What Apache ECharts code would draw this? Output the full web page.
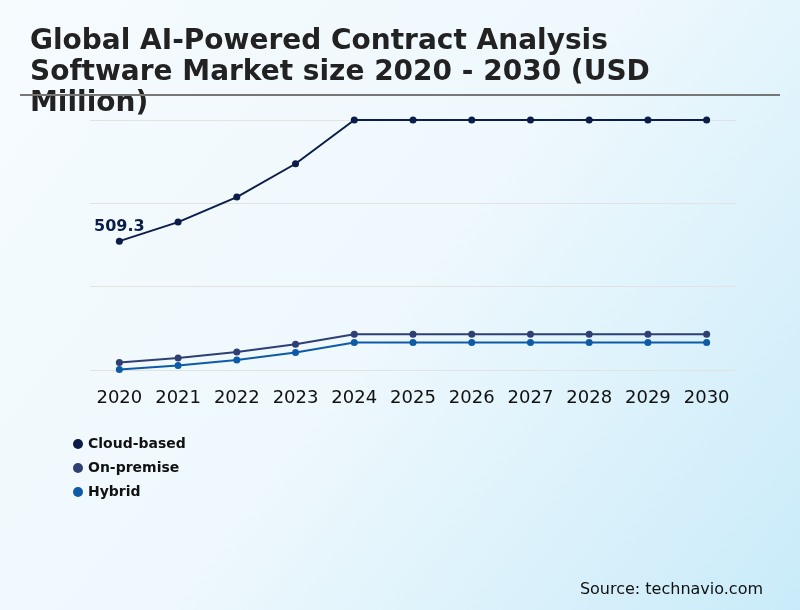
<!DOCTYPE html>
<html>
<head>
<meta charset="utf-8">
<script src="https://cdn.jsdelivr.net/npm/echarts@6/dist/echarts.min.js"></script>
<style>
  html, body { margin: 0; padding: 0; }
  #chart { width: 800px; height: 610px; }
</style>
</head>
<body>
<div id="chart"></div>
<script>
// Dados
var years = ['2020', '2021', '2022', '2023', '2024', '2025', '2026', '2027', '2028', '2029', '2030'];
var cloudBased = [509.3, 555, 615, 695, 800, 800, 800, 800, 800, 800, 800];
var onPremise = [218, 229, 243, 262, 286, 286, 286, 286, 286, 286, 286];
var hybrid = [201, 211, 224, 242, 266, 266, 266, 266, 266, 266, 266];
var seriesNames = ['Cloud-based', 'On-premise', 'Hybrid'];
var seriesColors = ['#0b1d48', '#2d3f73', '#0d5aa7'];

function makeSeries(name, data, color, showFirst) {
    return {
        name: name,
        type: 'line',
        data: data,
        symbol: 'circle',
        symbolSize: 7,
        color: color,
        lineStyle: { width: 2, color: color },
        itemStyle: { color: color },
        label: {
            show: showFirst,
            position: 'top',
            distance: 3,
            fontSize: 16,
            fontWeight: 'bold',
            color: '#0b1d48',
            fontFamily: 'DejaVu Sans',
            formatter: function (p) { return p.dataIndex === 0 ? p.value : ''; }
        }
    };
}

var option = {
    backgroundColor: {
        type: 'linear', x: 0, y: 0, x2: 1, y2: 1,
        colorStops: [
            { offset: 0, color: '#f6fbfe' },
            { offset: 0.5, color: '#eef8fd' },
            { offset: 1, color: '#c9ebf9' }
        ]
    },
    title: {
        text: 'Global AI-Powered Contract Analysis\nSoftware Market size 2020 - 2030 (USD\nMillion)',
        left: 25,
        top: 21,
        textStyle: {
            fontFamily: 'DejaVu Sans',
            fontWeight: 'bold',
            fontSize: 28,
            lineHeight: 31,
            color: '#222222'
        }
    },
    graphic: [
        {
            type: 'line',
            shape: { x1: 20, y1: 95, x2: 780, y2: 95 },
            style: { stroke: '#777777', lineWidth: 2 },
            z: 10
        },
        {
            type: 'text',
            right: 37,
            top: 582,
            style: {
                text: 'Source: technavio.com',
                font: '16px "DejaVu Sans"',
                fill: '#111111'
            }
        }
    ],
    legend: {
        orient: 'vertical',
        left: 68,
        top: 432,
        icon: 'circle',
        itemWidth: 10,
        itemHeight: 10,
        itemGap: 10,
        data: seriesNames,
        textStyle: { fontFamily: 'DejaVu Sans', fontWeight: 'bold', fontSize: 14, color: '#111111' }
    },
    grid: { left: 90, right: 64, top: 120, bottom: 240 },
    xAxis: {
        type: 'category',
        data: years,
        boundaryGap: true,
        axisLine: { show: false },
        axisTick: { show: false },
        axisLabel: { interval: 0, fontFamily: 'DejaVu Sans', fontSize: 18, color: '#111111', margin: 19 }
    },
    yAxis: {
        type: 'value',
        min: 200,
        max: 800,
        interval: 200,
        axisLabel: { show: false },
        axisLine: { show: false },
        axisTick: { show: false },
        splitLine: { lineStyle: { color: '#e2e2e2', width: 1 } }
    },
    series: [
        makeSeries(seriesNames[0], cloudBased, seriesColors[0], true),
        makeSeries(seriesNames[1], onPremise, seriesColors[1], false),
        makeSeries(seriesNames[2], hybrid, seriesColors[2], false)
    ]
};

var myChart = echarts.init(document.getElementById('chart'));
myChart.setOption(option);
</script>
</body>
</html>
